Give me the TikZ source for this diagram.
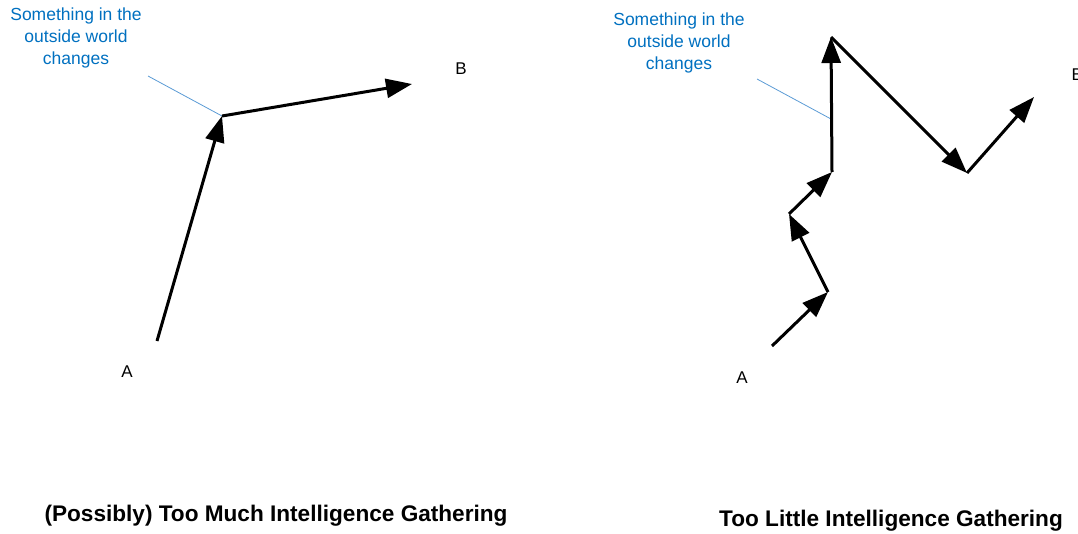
\documentclass[tikz,border=0pt]{standalone}
\usepackage{fontspec}
\setmainfont{Liberation Sans}
\usetikzlibrary{arrows.meta}
\definecolor{noteblue}{RGB}{0,112,192}
\definecolor{lineblue}{RGB}{91,155,213}
\tikzset{
    move/.style = {line width = 3pt, -{Triangle[length=26pt, width=19pt]}},
    note/.style = {align = center, text = noteblue, font = \fontsize{17.5}{22}\selectfont},
    pin line/.style = {lineblue, line width = 0.8pt},
    point/.style = {font = \fontsize{17}{20}\selectfont},
    title/.style = {font = \fontsize{22.6}{26}\selectfont\bfseries}
}
\begin{document}
\begin{tikzpicture}[x = 1pt, y = -1pt]
        \useasboundingbox (0, 0) rectangle (1078, 533);
        % left: few long steps
        \coordinate (la) at (157, 341);
        \coordinate (lk) at (222, 116);
        \coordinate (lb) at (412, 84);
        \coordinate (lp) at (148, 76);
        \node [point] (lA) at (127, 372) {A};
        \node [point] (lB) at (461, 69) {B};
        \node [note] (lnote) at (76, 38) {Something in the\\outside world\\changes};
        \draw [pin line] (lp) -- (lk);
        \draw [move] (la) -- (lk);
        \draw [move] (lk) -- (lb);
        \node [title] (ltitle) at (276, 516) {(Possibly) Too Much Intelligence Gathering};
        % right: many short steps
        \coordinate (r0) at (772, 346);
        \coordinate (r1) at (828, 292);
        \coordinate (r2) at (789, 214);
        \coordinate (r3) at (832, 172);
        \coordinate (r4) at (831, 37);
        \coordinate (r5) at (967, 173);
        \coordinate (r6) at (1034, 97);
        \coordinate (rp) at (757, 79);
        \coordinate (rk) at (831, 119);
        \node [point] (rA) at (742, 378) {A};
        \node [point, anchor = west] (rB) at (1068, 75) {B};
        \node [note] (rnote) at (679, 43) {Something in the\\outside world\\changes};
        \draw [pin line] (rp) -- (rk);
        \foreach \a/\b in {r0/r1, r1/r2, r2/r3, r3/r4, r4/r5, r5/r6}
            \draw [move] (\a) -- (\b);
        \node [title] (rtitle) at (891, 521) {Too Little Intelligence Gathering};
    \end{tikzpicture}
\end{document}
